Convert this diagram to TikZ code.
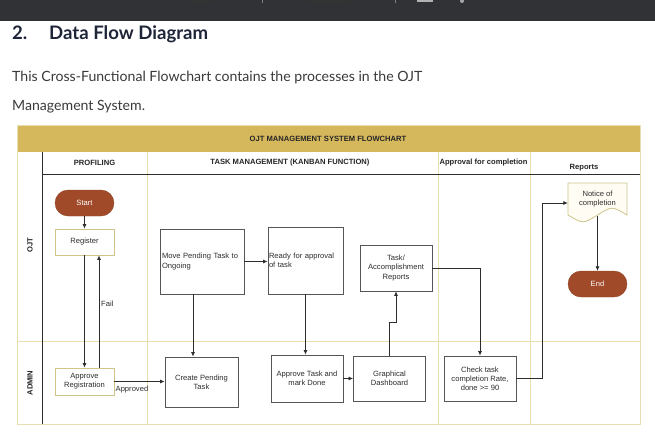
\documentclass[tikz,border=0pt]{standalone}
\usepackage{fontspec}
\setmainfont{Liberation Sans}
\newfontfamily\pagefont{Lato}
\usetikzlibrary{arrows.meta}
\definecolor{topbar}{RGB}{48,50,53}
\definecolor{gold}{RGB}{213,183,92}
\definecolor{laneln}{RGB}{232,222,178}
\definecolor{termfill}{RGB}{161,74,42}
\definecolor{goldbd}{RGB}{206,196,140}
\definecolor{boxbd}{RGB}{85,85,85}
\definecolor{ink}{RGB}{45,45,45}
\definecolor{headc}{RGB}{30,37,56}
\definecolor{bodytxt}{RGB}{58,58,58}
\definecolor{noticefill}{RGB}{255,253,243}
\begin{document}
\begin{tikzpicture}[x=1pt,y=-1pt,
  dfont/.style={font=\fontsize{7.6}{9.2}\selectfont},
  hfont/.style={font=\fontsize{7.6}{9.2}\selectfont\bfseries},
  proc/.style={draw=boxbd,line width=0.8pt,fill=white,inner sep=1pt,align=center,dfont,text=ink},
  gproc/.style={proc,draw=goldbd},
  term/.style={fill=termfill,draw=termfill!90!black,rounded corners=13pt,minimum width=59pt,minimum height=26pt,text=white,dfont,inner sep=0pt},
  arr/.style={draw=ink,line width=0.7pt,-{Latex[length=4.5pt,width=4pt]}},
  lane/.style={draw=laneln,line width=0.8pt},
  darkln/.style={draw=ink,line width=0.8pt},
  lbl/.style={dfont,text=ink,inner sep=0pt},
  pagetxt/.style={anchor=base west,inner sep=0pt,text=bodytxt,font=\pagefont\fontsize{14.1}{17}\selectfont},
  pagehead/.style={anchor=base west,inner sep=0pt,text=headc,font=\pagefont\fontsize{18.6}{22}\selectfont\bfseries}
]
\useasboundingbox (0,0) rectangle (655,447);
\fill[white] (0,0) rectangle (655,447);
% browser bar
\fill[topbar] (0,0) rectangle (655,21);
\fill[black!80] (192,0) rectangle (213,3);
\fill[black!80] (307,0) rectangle (350,3);
\draw[gray] (262,0) -- (262,3);
\draw[gray] (395,0) -- (395,3);
\fill[gray!60] (417,0) rectangle (433,2);
\fill[gray!70] (462,1) circle (2);
% page text
\node[pagehead] (hnum) at (12,39) {2.};
\node[pagehead] (htitle) at (49,39) {Data Flow Diagram};
\node[pagetxt] (p1) at (12,81) {This Cross-Functional Flowchart contains the processes in the OJT};
\node[pagetxt] (p2) at (12,110) {Management System.};
% swimlane frame
\fill[white] (17,125) rectangle (640,424);
\fill[gold] (17,125) rectangle (640,152);
\draw[lane] (17,125) rectangle (640,424);
\draw[lane] (147,152) -- (147,424);
\draw[lane] (438,152) -- (438,424);
\draw[lane] (530,152) -- (530,424);
\draw[lane] (17,341) -- (640,341);
\draw[darkln] (42,152) -- (42,424);
\draw[darkln] (42,174) -- (640,174);
\node[hfont,text=black!85] (title) at (328,139) {OJT MANAGEMENT SYSTEM FLOWCHART};
\node[hfont,text=black!85] (colA) at (94.5,163) {PROFILING};
\node[hfont,text=black!85] (colB) at (290,163) {TASK MANAGEMENT (KANBAN FUNCTION)};
\node[hfont,text=black!85] (colC) at (483.5,163) {Approval for completion};
\node[hfont,text=black!85] (colD) at (584,168) {Reports};
\node[hfont,text=black!85,rotate=90] (laneA) at (30,245) {OJT};
\node[hfont,text=black!85,rotate=90] (laneB) at (30,383) {ADMIN};
% nodes
\node[term] (start) at (84.5,203) {Start};
\node[gproc,minimum width=59pt,minimum height=26pt] (register) at (84.5,242) {Register};
\node[gproc,minimum width=59pt,minimum height=27pt] (appreg) at (84.5,381.5) {Approve\\Registration};
\node[proc,minimum width=84pt,minimum height=65pt,text width=80pt,align=left,inner sep=2pt] (move) at (202,261.5) {Move Pending Task to\\Ongoing};
\node[proc,minimum width=75pt,minimum height=67pt,text width=73pt,align=left,inner sep=1pt] (ready) at (305.5,260.5) {Ready for approval\\of task};
\node[proc,minimum width=72pt,minimum height=46pt] (taskrep) at (396,268) {Task/\\Accomplishment\\Reports};
\draw[draw=goldbd,fill=noticefill,line width=0.8pt] (568,183) -- (627,183) -- (627,215)
  .. controls (612,206) .. (597.5,215) .. controls (583,224) .. (568,215) -- cycle;
\node[lbl,align=center,minimum width=59pt,minimum height=34pt] (notice) at (597.5,199) {Notice of\\completion};
\node[term] (end) at (597.5,284) {End};
\node[proc,minimum width=73pt,minimum height=50pt] (create) at (201.5,382) {Create Pending\\Task};
\node[proc,minimum width=72pt,minimum height=47pt] (apptask) at (307,378.5) {Approve Task and\\mark Done};
\node[proc,minimum width=72pt,minimum height=45pt] (dash) at (389.5,378.5) {Graphical\\Dashboard};
\node[proc,minimum width=72pt,minimum height=45pt] (check) at (480,378.5) {Check task\\completion Rate,\\done >= 90};
% connectors
\draw[arr] (start) -- (register);
\draw[arr] (register.south) -- (appreg.north);
\draw[arr] ([xshift=14.5pt]appreg.north) -- ([xshift=14.5pt]register.south);
\node[lbl,anchor=west] (fail) at (101,304) {Fail};
\draw[arr] (appreg.east) -- (appreg.east -| create.west);
\node[lbl,anchor=west] (approved) at (115.5,390) {Approved};
\draw[arr] ([xshift=-9pt]move.south) -- ([xshift=-9pt]move.south |- create.north);
\draw[arr] (move.east) -- (move.east -| ready.west);
\draw[arr] (ready.south) -- (ready.south |- apptask.north);
\draw[arr] (apptask.east) -- (dash.west);
\draw[arr] (dash.north) -- ++(0,-33) -| (taskrep.south);
\draw[arr] (taskrep.east) -| (check.north);
\draw[arr] (check.east) -- ++(26,0) |- ([yshift=-4pt]notice.west);
\draw[arr] (notice.south) -- (end.north);
\end{tikzpicture}
\end{document}
